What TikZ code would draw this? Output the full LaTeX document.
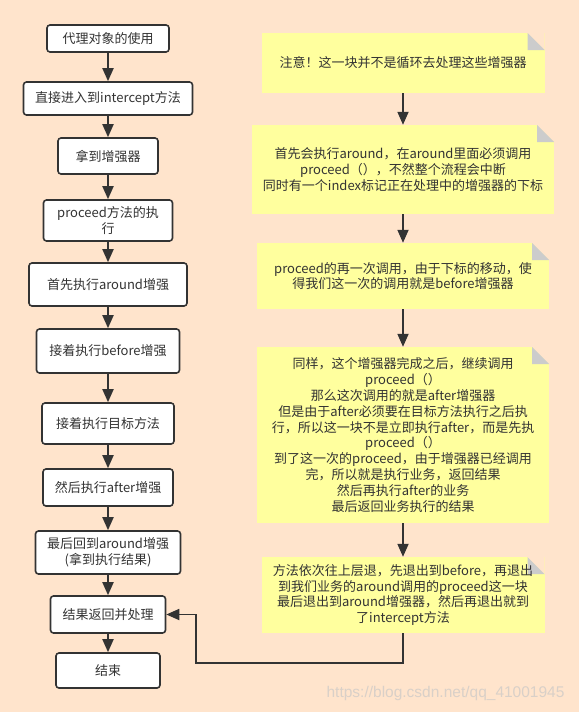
\documentclass[tikz,border=0pt]{standalone}
\usepackage{fontspec}
\setmainfont{Noto Sans CJK SC}
\newfontfamily\wmfont{Liberation Sans}
\usetikzlibrary{arrows.meta}
\definecolor{bgpeach}{HTML}{FFE4CC}
\definecolor{noteyel}{HTML}{FFFF9E}
\definecolor{foldgray}{HTML}{CCCCCC}
\definecolor{ink}{HTML}{333333}
\definecolor{wmark}{HTML}{D9D0C8}

\begin{document}
\begin{tikzpicture}[x=1pt, y=-1pt,
		box/.style={draw=ink, line width=1.6pt, rounded corners=3pt, fill=white, text=ink, align=center, inner sep=0pt, font=\fontsize{13}{15.8}\selectfont},
		note/.style={fill=noteyel, text=ink, align=center, inner sep=0pt, font=\fontsize{13}{15.8}\selectfont, path picture={
			\fill[bgpeach] ([xshift=-17pt]path picture bounding box.north east) -- (path picture bounding box.north east) -- ([yshift=-17pt]path picture bounding box.north east) -- cycle;
			\fill[foldgray] ([xshift=-17pt]path picture bounding box.north east) |- ([yshift=-17pt]path picture bounding box.north east) -- cycle;}},
		flow/.style={draw=ink, line width=1.8pt, -{Triangle[width=11pt,length=13pt]}}]
			\fill[bgpeach] (0,0) rectangle (579,712);
			\useasboundingbox (0,0) rectangle (579,712);
			
			\node[box, minimum width=122pt, minimum height=27pt] (use) at (108,38.5) {代理对象的使用};
			\node[box, minimum width=169pt, minimum height=33pt] (enter) at (108,98.5) {直接进入到intercept方法};
			\node[box, minimum width=100pt, minimum height=36pt] (getadv) at (108,156) {拿到增强器};
			\node[box, minimum width=129pt, minimum height=41pt] (proc) at (108,220.5) {proceed方法的执\\行};
			\node[box, minimum width=158pt, minimum height=43pt] (around) at (108,284.5) {首先执行around增强};
			\node[box, minimum width=143pt, minimum height=44pt] (before) at (108,351) {接着执行before增强};
			\node[box, minimum width=132pt, minimum height=41pt] (target) at (108,423.5) {接着执行目标方法};
			\node[box, minimum width=130pt, minimum height=37pt] (after) at (108,487.5) {然后执行after增强};
			\node[box, minimum width=145pt, minimum height=43pt] (back) at (108,552.5) {最后回到around增强\\(拿到执行结果)};
			\node[box, minimum width=115pt, minimum height=37pt] (result) at (108,614.5) {结果返回并处理};
			\node[box, minimum width=104pt, minimum height=35pt] (finish) at (108,670.5) {结束};
			
			\node[note, minimum width=283pt, minimum height=60pt] (warn) at (403,63) {注意！这一块并不是循环去处理这些增强器};
			\node[note, minimum width=302pt, minimum height=89pt] (first) at (403,169.5) {首先会执行around，在around里面必须调用\\proceed（），不然整个流程会中断\\同时有一个index标记正在处理中的增强器的下标};
			\node[note, minimum width=292pt, minimum height=66pt] (second) at (403,276) {proceed的再一次调用，由于下标的移动，使\\得我们这一次的调用就是before增强器};
			\node[note, minimum width=292pt, minimum height=176pt] (third) at (403,435) {同样，这个增强器完成之后，继续调用\\proceed（）\\那么这次调用的就是after增强器\\但是由于after必须要在目标方法执行之后执\\行，所以这一块不是立即执行after，而是先执\\proceed（）\\到了这一次的proceed，由于增强器已经调用\\完，所以就是执行业务，返回结果\\然后再执行after的业务\\最后返回业务执行的结果};
			\node[note, minimum width=283pt, minimum height=76pt] (exitn) at (403,595) {方法依次往上层退，先退出到before，再退出\\到我们业务的around调用的proceed这一块\\最后退出到around增强器，然后再退出就到\\了intercept方法};
			
			\foreach \a/\b in {use/enter, enter/getadv, getadv/proc, proc/around, around/before, before/target, target/after, after/back, back/result, result/finish}
				\draw[flow] (\a) -- (\b);
			\foreach \a/\b in {warn/first, first/second, second/third, third/exitn}
				\draw[flow] (\a) -- (\b);
			\draw[flow] (exitn.south) -- ++(0,30) -| ([xshift=30pt]result.east) -- (result.east);
			
			\node[text=wmark, font=\wmfont\fontsize{15.5}{15.5}\selectfont, anchor=east] (mark) at (568,693) {https://blog.csdn.net/qq\_41001945};
		\end{tikzpicture}
\end{document}
